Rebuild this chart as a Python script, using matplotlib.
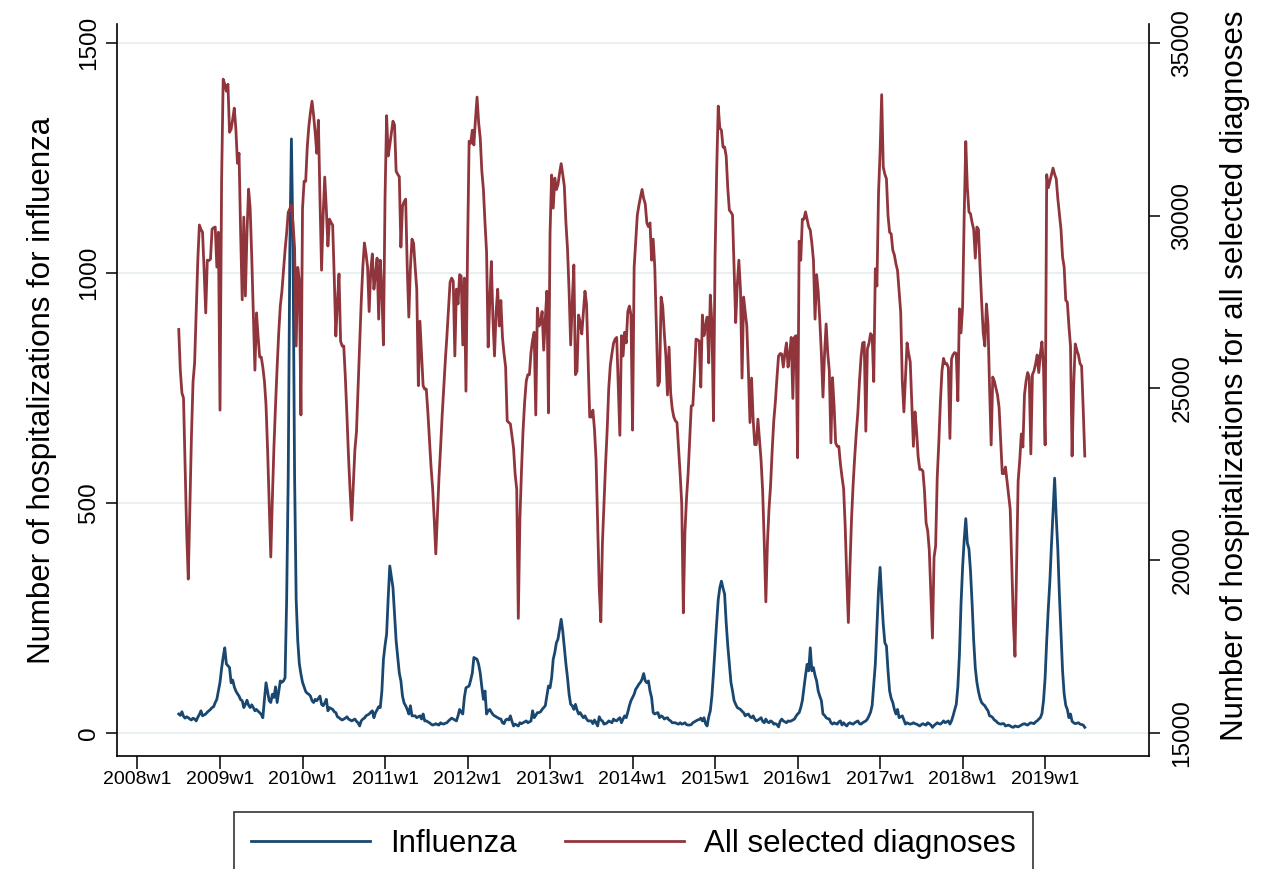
import numpy as np
import matplotlib
matplotlib.use("Agg")
import matplotlib.pyplot as plt

plt.rcParams['font.family'] = ['Liberation Sans', 'DejaVu Sans']

# weekly hospitalizations, one list per season (w27 .. w26 of next year)
flu_0809 = [41, 38, 46, 36, 32, 35, 33, 30, 28, 32, 30, 26, 34, 40, 48, 37, 39, 41, 45, 48,
            51, 55, 57, 66, 73, 91, 110, 140, 165, 185, 150, 146, 142, 109, 115, 100, 91, 85, 80, 72,
            70, 55, 62, 71, 60, 55, 61, 55, 48, 51, 47, 44]
flu_0910 = [40, 33, 73, 109, 90, 70, 66, 84, 77, 100, 66, 90, 113, 110, 113, 120, 290, 560, 1050, 1292,
            1060, 560, 290, 200, 150, 128, 110, 100, 90, 86, 84, 80, 70, 66, 73, 70, 75, 80, 62, 59,
            65, 73, 48, 55, 53, 51, 46, 44, 35, 33, 30, 28]
flu_1011 = [30, 32, 35, 30, 28, 26, 28, 30, 25, 22, 15, 26, 30, 32, 37, 39, 41, 45, 48, 33,
            44, 50, 57, 55, 90, 160, 190, 215, 294, 363, 340, 316, 258, 200, 164, 130, 113, 80, 65, 59,
            51, 41, 59, 37, 37, 37, 33, 35, 37, 30, 41, 26]
flu_1112 = [26, 24, 22, 19, 17, 18, 20, 18, 17, 22, 20, 19, 21, 22, 26, 29, 32, 30, 28, 26,
            37, 51, 45, 41, 77, 98, 100, 102, 115, 130, 164, 162, 160, 149, 130, 100, 73, 91, 41, 48,
            51, 45, 40, 37, 35, 33, 31, 30, 22, 20, 28, 30]
flu_1213 = [28, 37, 25, 15, 19, 17, 15, 22, 20, 22, 24, 26, 22, 24, 26, 48, 33, 38, 44, 44,
            46, 51, 55, 59, 80, 102, 98, 120, 160, 175, 196, 204, 225, 247, 222, 185, 150, 120, 84, 62,
            59, 51, 62, 50, 41, 44, 38, 33, 37, 30, 26, 26]
flu_1314 = [26, 20, 28, 22, 15, 35, 28, 26, 19, 20, 22, 26, 24, 22, 30, 27, 26, 30, 33, 22,
            30, 37, 33, 45, 59, 70, 77, 84, 95, 100, 106, 110, 117, 129, 113, 109, 113, 91, 77, 44,
            41, 43, 44, 33, 37, 35, 30, 32, 33, 28, 26, 22]
flu_1415 = [22, 22, 20, 19, 22, 19, 20, 22, 18, 17, 17, 18, 22, 24, 26, 28, 29, 32, 26, 33,
            20, 15, 35, 48, 80, 130, 185, 240, 290, 316, 330, 315, 302, 240, 190, 149, 110, 91, 70, 62,
            55, 53, 51, 47, 44, 37, 40, 41, 35, 33, 37, 30]
flu_1516 = [26, 28, 30, 33, 25, 22, 30, 24, 22, 26, 24, 19, 20, 18, 13, 25, 30, 26, 24, 22,
            26, 25, 26, 28, 30, 36, 41, 44, 55, 70, 98, 125, 149, 135, 185, 135, 142, 125, 113, 91,
            80, 70, 41, 38, 33, 31, 30, 22, 19, 22, 20, 19]
flu_1617 = [24, 26, 17, 22, 18, 15, 20, 22, 20, 19, 22, 24, 26, 20, 19, 22, 24, 26, 30, 37,
            45, 60, 105, 150, 230, 310, 360, 294, 236, 196, 189, 135, 91, 75, 66, 51, 41, 51, 33, 35,
            37, 28, 19, 22, 20, 19, 20, 22, 20, 19, 17, 15]
flu_1718 = [18, 20, 18, 17, 22, 20, 17, 12, 16, 19, 22, 20, 19, 22, 26, 22, 24, 26, 19, 26,
            37, 50, 62, 100, 170, 280, 360, 420, 466, 413, 400, 351, 280, 200, 141, 110, 90, 75, 66, 62,
            59, 53, 48, 37, 36, 33, 28, 26, 22, 20, 19, 20]
flu_1819 = [20, 15, 16, 17, 15, 13, 12, 15, 14, 13, 15, 17, 19, 20, 18, 17, 20, 22, 21, 20,
            24, 26, 30, 33, 42, 70, 120, 200, 270, 330, 409, 480, 554, 470, 400, 300, 217, 135, 85, 60,
            51, 33, 41, 25, 22, 20, 21, 22, 19, 18, 17, 12]

all_0809 = [26700, 25500, 24860, 24710, 22800, 20800, 19460, 21500, 23600, 25180,
            25730, 27200, 28700, 29730, 29600, 29520, 28400, 27180, 28710, 28700,
            28740, 29610, 29650, 29670, 28510, 29520, 24360, 31000, 33960, 33810,
            33610, 33810, 32420, 32510, 32800, 33120, 32510, 31520, 31810, 29500,
            27560, 29960, 27670, 29500, 30770, 30220, 28800, 27200, 25520, 27180,
            26500, 25900]
all_0910 = [25900, 25600, 25200, 24510, 23200, 21600, 20100, 21800, 23300, 24510,
            25600, 26600, 27380, 27800, 28400, 29000, 29500, 30100, 30200, 30310,
            29800, 29060, 26220, 28500, 28100, 24220, 30200, 31000, 31000, 32000,
            32600, 33000, 33320, 32900, 32400, 31810, 32770, 30500, 28420, 30000,
            31120, 30200, 29120, 29900, 29800, 29730, 28200, 26510, 27500, 28310,
            26360, 26220]
all_1011 = [26220, 25300, 24200, 23000, 22000, 21170, 22200, 23200, 23730, 25000,
            26300, 27500, 28500, 29210, 28900, 28510, 27220, 28400, 28890, 27870,
            28300, 28770, 27000, 28710, 27800, 26250, 30500, 32900, 31730, 32050,
            32400, 32740, 32630, 31290, 31200, 31130, 29090, 30280, 30400, 30480,
            28500, 27060, 28500, 29320, 29200, 28500, 27870, 25070, 26940, 26000,
            25070, 24970]
all_1112 = [24970, 24300, 23500, 22710, 22100, 21200, 20190, 21300, 22400, 23260,
            24200, 25000, 25800, 26510, 27300, 28070, 28190, 28100, 25930, 27870,
            27440, 28290, 28250, 26250, 28190, 24910, 29000, 32160, 32100, 32480,
            32050, 32800, 33440, 32700, 32250, 31300, 30760, 29800, 28940, 26190,
            27500, 28670, 27000, 25930, 27200, 27870, 26800, 27540, 26480, 26000,
            25610, 24050]
all_1213 = [24000, 23960, 23600, 23260, 22500, 22070, 18320, 21200, 22600, 23780,
            24600, 25200, 25390, 25390, 26040, 26400, 26620, 24220, 27320, 26800,
            26900, 27220, 26100, 27000, 27810, 24280, 29500, 31180, 30220, 31090,
            30760, 30900, 31230, 31510, 31200, 30860, 29800, 29040, 27800, 26250,
            27500, 28570, 25390, 25490, 27120, 26900, 26570, 27200, 27810, 27440,
            25800, 24160]
all_1314 = [24160, 24360, 23800, 22930, 21000, 19200, 18220, 20500, 21640, 22800,
            23780, 25000, 25670, 26000, 26300, 26420, 26470, 25000, 23630, 26520,
            25930, 26620, 26310, 27220, 27380, 27120, 23780, 28500, 29260, 30020,
            30300, 30540, 30760, 30500, 30340, 29790, 29680, 29790, 28710, 29320,
            28510, 26800, 25070, 25180, 27640, 27380, 26600, 25930, 24800, 26190,
            24860, 24400]
all_1415 = [24160, 24050, 24000, 23260, 22500, 21640, 18480, 20800, 21800, 22510,
            23500, 24480, 24500, 25400, 26420, 26400, 26360, 25030, 27120, 26520,
            26800, 27060, 25730, 27700, 26900, 24050, 28830, 31290, 33180, 32540,
            32480, 31990, 31990, 31730, 30800, 30160, 30100, 30020, 28500, 26900,
            28000, 28710, 27870, 25290, 27640, 27200, 26800, 25500, 24000, 25290,
            24100, 23360]
all_1516 = [23360, 24100, 23500, 22900, 22000, 20500, 18800, 20500, 21500, 22190,
            23200, 24050, 24600, 25300, 25930, 26000, 25990, 25610, 26000, 26310,
            25610, 26000, 26470, 24700, 26470, 26520, 22980, 29260, 28710, 29900,
            29900, 30110, 29900, 29680, 29580, 29200, 28710, 27000, 28290, 27800,
            26970, 26000, 24740, 26000, 26860, 26020, 25500, 23410, 25300, 24500,
            23410, 23310]
all_1617 = [23310, 22800, 22420, 22090, 21000, 19500, 18200, 19800, 21200, 22200,
            23000, 23700, 24310, 25200, 25900, 26310, 26330, 23750, 26130, 26300,
            26580, 26520, 25190, 28460, 27960, 30630, 31850, 33510, 31410, 31200,
            31070, 30000, 29520, 29470, 29000, 28860, 28600, 28410, 27800, 27190,
            25190, 24310, 25300, 26310, 26000, 25760, 24500, 23310, 24310, 23750,
            23000, 22640]
all_1718 = [22640, 22590, 22000, 21090, 20860, 20300, 19000, 17750, 20090, 20420,
            22400, 23410, 24600, 25500, 25860, 25700, 25710, 25600, 23540, 25840,
            25970, 26030, 26000, 24630, 27300, 26600, 27360, 30000, 32150, 30800,
            30110, 30050, 29800, 29600, 28770, 29670, 29600, 28500, 27500, 26600,
            26220, 27440, 26860, 25000, 23350, 25320, 25200, 25000, 24800, 24430,
            23500, 22520]
all_1819 = [22520, 22710, 22300, 21900, 21490, 19800, 18200, 17220, 19800, 22300,
            22900, 23670, 23290, 24810, 25200, 25450, 25320, 23090, 25390, 25500,
            25700, 25960, 25450, 26000, 26340, 25580, 23350, 31190, 30810, 31000,
            31190, 31380, 31200, 31070, 30500, 30050, 29600, 28800, 28510, 27550,
            27490, 26800, 26220, 23030, 25070, 26280, 26100, 25960, 25710, 25640,
            24400, 23030]

year_ticks = list(range(2008, 2020))
tick_labels = [f"{y}w1" for y in year_ticks]
left_ticks = [0, 500, 1000, 1500]
right_ticks = [15000, 20000, 25000, 30000, 35000]

flu = np.concatenate([flu_0809, flu_0910, flu_1011, flu_1112, flu_1213, flu_1314,
                      flu_1415, flu_1516, flu_1617, flu_1718, flu_1819])
alldx = np.concatenate([all_0809, all_0910, all_1011, all_1112, all_1213, all_1314,
                        all_1415, all_1516, all_1617, all_1718, all_1819])
# time axis in years, first point is 2008w27
weeks = 2008 + (26 + np.arange(len(flu))) / 52

navy = '#1a476f'
maroon = '#90353b'

fig = plt.figure(figsize=(12.63, 8.69), dpi=100)
ax = fig.add_axes([0.0924, 0.130, 0.8174, 0.8424])
ax2 = ax.twinx()

l1, = ax.plot(weeks, flu, color=navy, lw=2.0, label='Influenza')
l2, = ax2.plot(weeks, alldx, color=maroon, lw=2.0, label='All selected diagnoses')

ax.set_xlim(2007.748, 2020.26)
ax.set_ylim(-50.4, 1542)
ax2.set_ylim(14328, 35560)

ax.set_xticks(year_ticks)
ax.set_xticklabels(tick_labels)
ax.set_yticks(left_ticks)
ax2.set_yticks(right_ticks)

ax.grid(axis='y', color='#e8f0f2', lw=1.5)
ax.set_axisbelow(True)

for a in (ax, ax2):
    a.spines['top'].set_visible(False)
    for s in a.spines.values():
        s.set_linewidth(1.2)
ax.spines['right'].set_visible(False)
ax2.spines['left'].set_visible(False)
ax2.spines['bottom'].set_visible(False)

ax.tick_params(axis='x', direction='out', length=9, width=1.1, labelsize=14, pad=2)
ax.tick_params(axis='y', direction='out', length=8, width=1.1, labelsize=17.5, pad=4,
               labelrotation=90)
ax2.tick_params(axis='y', direction='out', length=8, width=1.1, labelsize=17.5, pad=8,
                labelrotation=90)
for t in ax.get_yticklabels() + ax2.get_yticklabels():
    t.set_va('center')

ax.set_ylabel('Number of hospitalizations for influenza', fontsize=22.5, labelpad=15)
ax2.set_ylabel('Number of hospitalizations for all selected diagnoses', fontsize=22.5,
               labelpad=19)
ax2.yaxis.label.set_y(0.52)

leg = fig.legend([l1, l2], ['Influenza', 'All selected diagnoses'], loc='upper center',
                 bbox_to_anchor=(0.5016, 1 - 812 / 869), ncol=2, fontsize=22.5,
                 frameon=True, fancybox=False, edgecolor='black', handlelength=3.8,
                 handletextpad=0.65, columnspacing=1.55, borderpad=0.55, borderaxespad=0)
leg.get_frame().set_linewidth(1.2)

fig.savefig('out.png', dpi=100)
